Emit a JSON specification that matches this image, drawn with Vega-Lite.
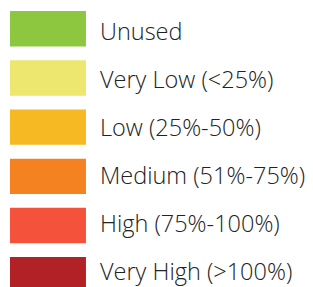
{
  "$schema": "https://vega.github.io/schema/vega-lite/v6.json",
  "width": 313,
  "height": 287,
  "autosize": {"type": "fit", "contains": "padding"},
  "padding": 0,
  "background": "#ffffff",
  "config": {"view": {"stroke": null}},
  "data": {"values": [
    {"label": "Unused", "color": "#8dc63f"},
    {"label": "Very Low (<25%)", "color": "#ede66f"},
    {"label": "Low (25%-50%)", "color": "#f6b923"},
    {"label": "Medium (51%-75%)", "color": "#f58220"},
    {"label": "High (75%-100%)", "color": "#f4523b"},
    {"label": "Very High (>100%)", "color": "#b22126"}
  ]},
  "resolve": {"scale": {"y": "independent"}},
  "layer": [
    {
      "mark": {"type": "rect"},
      "encoding": {
        "y": {"field": "label", "type": "nominal", "sort": null, "axis": null,
          "scale": {"type": "band", "range": [11, 292.5], "paddingInner": 0.28, "paddingOuter": 0}},
        "x": {"datum": "swatch", "axis": null,
          "scale": {"type": "band", "domain": ["swatch", "text"], "paddingInner": 0.156, "paddingOuter": 0.817, "align": 0.068}},
        "color": {"field": "color", "type": "nominal", "scale": null, "legend": null}
      }
    },
    {
      "mark": {"type": "text", "align": "left", "baseline": "alphabetic", "font": "Open Sans", "fontSize": 23.5, "fontWeight": 300, "color": "#222222"},
      "encoding": {
        "y": {"field": "label", "type": "nominal", "sort": null, "axis": null,
          "scale": {"type": "point", "range": [40, 280], "padding": 0}},
        "x": {"datum": "text", "bandPosition": 0},
        "text": {"field": "label"}
      }
    }
  ]
}
